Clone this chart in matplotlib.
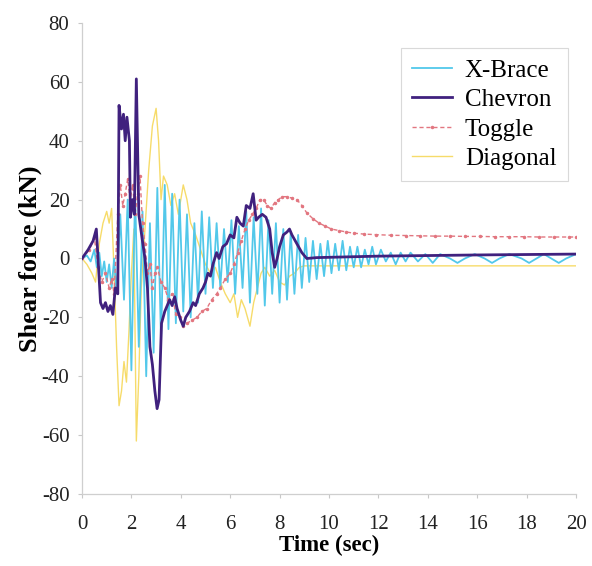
import matplotlib
matplotlib.use("Agg")
import matplotlib.pyplot as plt

# ---- X-Brace shear force (kN) vs time (s)
xbrace_t = [0.0, 0.2, 0.35, 0.5, 0.6, 0.7, 0.8, 0.9, 1.0, 1.1, 1.2, 1.3, 1.4,
            1.55, 1.7, 1.85, 2.0, 2.15, 2.3, 2.45, 2.6, 2.75, 2.9, 3.05, 3.2,
            3.35, 3.5, 3.65, 3.8, 3.95, 4.1, 4.25, 4.4, 4.55, 4.7, 4.85, 5.0,
            5.15, 5.3, 5.45, 5.6, 5.75, 5.9, 6.05, 6.2, 6.35, 6.5, 6.65, 6.8,
            6.95, 7.1, 7.25, 7.4, 7.55, 7.7, 7.85, 8.0, 8.15, 8.3, 8.45, 8.6,
            8.75, 8.9, 9.05, 9.2, 9.35, 9.5, 9.65, 9.8, 9.95, 10.1, 10.25,
            10.4, 10.55, 10.7, 10.85, 11.0, 11.15, 11.3, 11.45, 11.6, 11.75,
            11.9, 12.1, 12.3, 12.5, 12.7, 12.9, 13.1, 13.3, 13.6, 13.9, 14.2,
            14.5, 14.9, 15.2, 15.5, 15.9, 16.3, 16.6, 16.9, 17.3, 17.8, 18.1,
            18.4, 18.7, 19.0, 19.3, 19.6, 20.0]
xbrace_v = [0, 1, -1, 3, -3, 2, -6, -1, -8, -2, -10, 0, -12,
            15, -14, 20, -38, 22, -30, 16, -40, 12, -32, 24, -28,
            25, -24, 22, -22, 20, -18, 15, -20, 12, -15, 16, -12,
            14, -10, 12, -10, 10, -8, 13, -12, 11, -10, 16, -15,
            14, -12, 17, -16, 13, -12, 12, -15, 10, -14, 9, -12,
            8, -10, 7, -8, 6, -7, 5, -6, 6, -5, 5,
            -4, 6, -4, 4, -3, 4, -3, 3, -2, 4,
            -2, 3, -1, 2, -2, 2, -1, 2, -1, 1.5, -1.5,
            1.5, 0, -1.5, 0, 1.5, 0, -1.5, 0, 1.5, 0, -1.5,
            0, 1.5, 0, -1.5, 0, 1.5]

# ---- Chevron
chevron_t = [0.0, 0.25, 0.45, 0.58, 0.65, 0.75, 0.85, 0.95, 1.05, 1.15, 1.25,
             1.35, 1.45, 1.5, 1.6, 1.68, 1.75, 1.82, 1.92, 1.96, 2.05, 2.12,
             2.2, 2.3, 2.43, 2.55, 2.65, 2.75, 2.85, 2.95, 3.04, 3.12, 3.22,
             3.35, 3.45, 3.55, 3.65, 3.75, 3.85, 4.0, 4.1, 4.2, 4.35, 4.5,
             4.6, 4.75, 4.9, 5.0, 5.1, 5.2, 5.3, 5.45, 5.55, 5.7, 5.85, 6.0,
             6.15, 6.27, 6.4, 6.53, 6.65, 6.8, 6.93, 7.05, 7.15, 7.3, 7.45,
             7.6, 7.7, 7.8, 7.9, 8.0, 8.15, 8.3, 8.4, 8.5, 8.7, 8.9, 9.1, 9.5,
             12.0, 16.0, 20.0]
chevron_v = [0, 3, 6, 10, 0, -15, -17, -15, -18, -16, -19,
             -10, -12, 52, 44, 49, 40, 48, 40, 14, 20, 15,
             61, 15, 7, 0, -10, -30, -36, -45, -51, -48, -22,
             -18, -16, -14, -16, -13, -17, -21, -23, -20, -18, -15,
             -16, -12, -10, -8, -5, -6, -2, 2, 0, 4, 5, 8,
             7, 14, 12, 11, 18, 17, 22, 13, 14, 15, 14,
             10, 2, -3, 0, 4, 8, 9, 10, 8, 5, 2, 0, 0.3,
             0.8, 1.2, 1.5]

# ---- Toggle
toggle_t = [0.0, 0.3, 0.5, 0.65, 0.8, 0.95, 1.1, 1.2, 1.3, 1.45, 1.55, 1.65,
            1.75, 1.85, 1.95, 2.05, 2.15, 2.25, 2.35, 2.45, 2.55, 2.65, 2.75,
            2.85, 2.95, 3.05, 3.2, 3.35, 3.5, 3.65, 3.8, 3.95, 4.1, 4.25,
            4.45, 4.65, 4.85, 5.05, 5.25, 5.45, 5.6, 5.8, 6.0, 6.15, 6.3,
            6.45, 6.6, 6.75, 6.9, 7.05, 7.2, 7.35, 7.5, 7.65, 7.8, 7.95, 8.1,
            8.3, 8.5, 8.7, 8.9, 9.1, 9.35, 9.6, 9.85, 10.1, 10.4, 10.7, 11.0,
            11.4, 11.9, 12.5, 13.1, 13.7, 14.3, 14.9, 15.5, 16.1, 16.7, 17.3,
            17.9, 18.5, 19.1, 19.7, 20.0]
toggle_v = [0, 3, 7, -3, -8, -5, -10, -7, -12, 15, 25, 18,
            22, 27, 20, 25, 15, 22, 28, 12, 5, -5, -2,
            -10, -5, -3, -8, -10, -14, -12, -19, -20, -23, -22,
            -21, -20, -18, -17, -14, -12, -10, -7, -5, -2, 2,
            6, 10, 13, 15, 17, 20, 20, 18, 17, 19, 20, 21,
            21, 20.5, 20, 18, 15.5, 13.5, 12, 11, 10, 9.5, 9, 8.6,
            8.3, 8.1, 7.9, 7.8, 7.7, 7.6, 7.6, 7.5, 7.5, 7.4, 7.4,
            7.4, 7.3, 7.3, 7.3, 7.3]

# ---- Diagonal
diagonal_t = [0.0, 0.2, 0.4, 0.55, 0.7, 0.85, 1.0, 1.1, 1.2, 1.3, 1.4, 1.5,
              1.6, 1.7, 1.8, 1.9, 2.0, 2.1, 2.2, 2.3, 2.4, 2.55, 2.7, 2.85,
              3.0, 3.1, 3.2, 3.3, 3.45, 3.6, 3.75, 3.9, 4.1, 4.25, 4.4, 4.6,
              4.8, 5.0, 5.2, 5.4, 5.6, 5.8, 6.0, 6.15, 6.3, 6.45, 6.6, 6.8,
              6.95, 7.1, 7.25, 7.4, 7.6, 7.8, 8.0, 8.2, 8.4, 8.6, 8.8, 9.0,
              20.0]
diagonal_v = [0, -2, -5, -8, 5, 12, 16, 12, 17, -5, -30, -50,
              -45, -35, -42, -25, -5, 10, -62, -40, -10, 10, 30, 45,
              51, 40, 20, 28, 25, 18, 22, 15, 25, 20, 12, 8,
              3, -2, -5, -3, -8, -12, -15, -12, -20, -14, -17, -23,
              -15, -10, -5, -3, -6, -4, -8, -9, -6, -5, -3, -2.5,
              -2.5]

series_names = ["X-Brace", "Chevron", "Toggle", "Diagonal"]
x_ticks = [0, 2, 4, 6, 8, 10, 12, 14, 16, 18, 20]
y_ticks = [-80, -60, -40, -20, 0, 20, 40, 60, 80]

plt.rcParams["font.family"] = ["Liberation Serif", "DejaVu Serif"]
plt.rcParams["axes.unicode_minus"] = False

fig = plt.figure(figsize=(5.92, 5.66), dpi=100)
ax = fig.add_axes([0.1385, 0.1272, 0.8345, 0.8322])

ax.plot(xbrace_t, xbrace_v, color="#52c8ea", lw=1.3, label=series_names[0], zorder=3)
ax.plot(diagonal_t, diagonal_v, color="#f6d85a", lw=1.0, label=series_names[3], zorder=2, alpha=0.9)
ax.plot(toggle_t, toggle_v, color="#e27680", lw=1.0, ls=(0, (3, 2)), marker=".",
        markersize=3, label=series_names[2], zorder=4)
ax.plot(chevron_t, chevron_v, color="#40217e", lw=2.0, label=series_names[1], zorder=5)

ax.set_xlim(0, 20)
ax.set_ylim(-80, 80)
ax.set_xticks(x_ticks)
ax.set_yticks(y_ticks)
ax.tick_params(axis="both", labelsize=15, colors="#c8c8c8", labelcolor="#222222",
               length=3, width=0.8)
ax.tick_params(axis="x", pad=12)
ax.tick_params(axis="y", pad=6)

for side in ("top", "right"):
    ax.spines[side].set_visible(False)
for side in ("left", "bottom"):
    ax.spines[side].set_color("#cfcfcf")
    ax.spines[side].set_linewidth(0.9)

ax.set_xlabel("Time (sec)", fontsize=16.5, fontweight="bold", labelpad=1)
ax.set_ylabel("Shear force (kN)", fontsize=19, fontweight="bold", labelpad=0)

handles, labels = ax.get_legend_handles_labels()
order = [labels.index(n) for n in series_names]
leg = ax.legend([handles[i] for i in order], [labels[i] for i in order],
                loc="upper right", bbox_to_anchor=(0.983, 0.947), fontsize=18,
                frameon=True, fancybox=False, edgecolor="#d0d0d0",
                handlelength=1.6, handletextpad=0.5, borderpad=0.45,
                labelspacing=0.28, borderaxespad=0.0)
leg.get_frame().set_linewidth(0.8)

fig.savefig("out.png", dpi=100)
